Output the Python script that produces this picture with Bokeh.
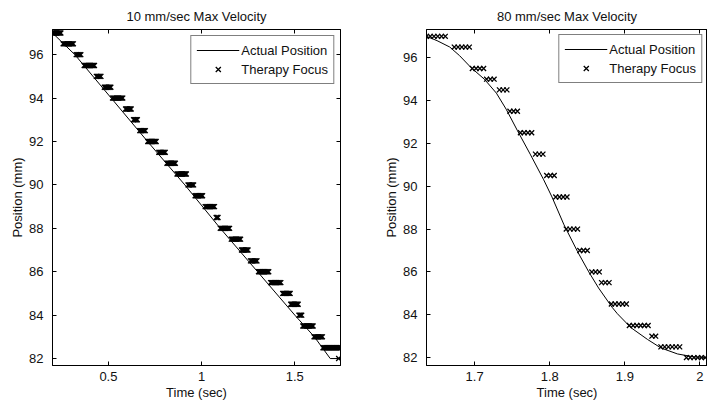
from bokeh.plotting import figure
from bokeh.layouts import row
from bokeh.models import LinearAxis, Range1d, Legend, LegendItem, FixedTicker
from bokeh.embed import file_html
from bokeh.resources import INLINE

# ---------------- data: left panel (10 mm/sec) ----------------
left_title = "10 mm/sec Max Velocity"
left_line_t = [0.2, 0.32, 0.515, 0.71, 0.91, 1.10, 1.30, 1.50, 1.605, 1.69, 1.745]
left_line_y = [97, 96, 94, 92, 90, 88, 86, 84, 83, 82, 82]
left_focus_level = [97, 96.5, 96, 95.5, 95, 94.5, 94, 93.5, 93, 92.5, 92, 91.5, 91, 90.5, 90,
                    89.5, 89, 88.5, 88, 87.5, 87, 86.5, 86, 85.5, 85, 84.5, 84, 83.5, 83, 82.5, 82]
left_focus_start = [0.200, 0.257, 0.327, 0.370, 0.435, 0.478, 0.522, 0.592, 0.635, 0.668, 0.711,
                    0.770, 0.814, 0.868, 0.927, 0.965, 1.019, 1.078, 1.100, 1.159, 1.214, 1.262,
                    1.305, 1.370, 1.435, 1.478, 1.522, 1.543, 1.603, 1.651, 1.735]
left_focus_end = [0.246, 0.311, 0.354, 0.424, 0.462, 0.511, 0.576, 0.624, 0.657, 0.700, 0.754,
                  0.803, 0.857, 0.916, 0.959, 1.003, 1.068, 1.089, 1.149, 1.208, 1.251, 1.295,
                  1.359, 1.424, 1.473, 1.516, 1.538, 1.597, 1.646, 1.745, 1.735]
left_x_ticks = [0.5, 1, 1.5]
left_x_labels = ["0.5", "1", "1.5"]

# ---------------- data: right panel (80 mm/sec) ----------------
right_title = "80 mm/sec Max Velocity"
right_line_t = [1.636, 1.650, 1.667, 1.680, 1.695, 1.713, 1.729, 1.742, 1.757, 1.774, 1.792,
                1.803, 1.819, 1.837, 1.852, 1.865, 1.883, 1.890, 1.908, 1.930, 1.948, 1.970,
                1.992, 2.010]
right_line_y = [97.0, 96.8, 96.5, 96.1, 95.55, 95.0, 94.35, 93.6, 92.6, 91.5, 90.3,
                89.5, 88.2, 86.95, 86.0, 85.25, 84.35, 84.05, 83.4, 82.85, 82.45, 82.17,
                82.03, 82.0]
right_focus_level = [97, 96.5, 95.5, 95, 94.5, 93.5, 92.5, 91.5, 90.5, 89.5, 88, 87, 86, 85.5,
                     84.5, 83.5, 83, 82.5, 82]
right_focus_start = [1.636, 1.673, 1.697, 1.716, 1.733, 1.747, 1.761, 1.781, 1.796, 1.808, 1.822,
                     1.840, 1.856, 1.869, 1.882, 1.906, 1.936, 1.948, 1.982]
right_focus_end = [1.663, 1.692, 1.712, 1.728, 1.741, 1.759, 1.774, 1.792, 1.805, 1.821, 1.836,
                   1.852, 1.866, 1.881, 1.902, 1.932, 1.942, 1.974, 2.010]
right_x_ticks = [1.7, 1.8, 1.9, 2]
right_x_labels = ["1.7", "1.8", "1.9", "2"]

y_ticks = [82, 84, 86, 88, 90, 92, 94, 96]
focus_dt = 0.005  # therapy-focus sample period

FONT = "Liberation Sans"
TXT = "#111111"


def expand(levels, starts, ends, dt):
    t, y = [], []
    for lv, s, e in zip(levels, starts, ends):
        n = int(round((e - s) / dt)) + 1
        for k in range(n):
            t.append(s + k * dt)
            y.append(lv)
    return t, y


def style_axis(ax, ticks, show_labels=True):
    ax.ticker = FixedTicker(ticks=ticks)
    ax.axis_line_color = "black"
    ax.major_tick_line_color = "black"
    ax.major_tick_in = 4
    ax.major_tick_out = 0
    ax.minor_tick_in = 0
    ax.minor_tick_out = 0
    ax.major_label_text_font = FONT
    if show_labels:
        ax.major_label_text_font_size = "13px"
        ax.major_label_text_color = TXT
    else:
        ax.major_label_text_font_size = "1px"
        ax.major_label_text_color = None
        ax.major_label_standoff = 0


def make_panel(title, xr, yr, xticks, xlabels, line_t, line_y, levels, starts, ends,
               width, mbl, mbr, right_axis, legend_margin):
    p = figure(width=width, height=408, x_range=Range1d(*xr), y_range=Range1d(*yr),
               output_backend="svg", toolbar_location=None, title=title,
               min_border_left=mbl, min_border_right=mbr, min_border_top=29, min_border_bottom=43)
    p.background_fill_color = "white"
    p.border_fill_color = "white"
    p.outline_line_color = "black"
    p.outline_line_alpha = 1.0
    p.xgrid.visible = False
    p.ygrid.visible = False
    p.title.text_font = FONT
    p.title.text_font_size = "13px"
    p.title.text_font_style = "normal"
    p.title.text_color = TXT
    p.title.align = "center"
    p.title.standoff = 11

    style_axis(p.xaxis[0], xticks)
    p.xaxis[0].major_label_overrides = dict(zip(xticks, xlabels))
    p.xaxis[0].major_label_standoff = 6
    p.xaxis[0].axis_label = "Time (sec)"
    p.xaxis[0].axis_label_standoff = 1
    style_axis(p.yaxis[0], y_ticks)
    p.yaxis[0].major_label_standoff = 9
    p.yaxis[0].axis_label = "Position (mm)"
    p.yaxis[0].axis_label_standoff = 1
    for ax in (p.xaxis[0], p.yaxis[0]):
        ax.axis_label_text_font = FONT
        ax.axis_label_text_font_size = "13px"
        ax.axis_label_text_font_style = "normal"
        ax.axis_label_text_color = TXT

    top = LinearAxis()
    style_axis(top, xticks, show_labels=False)
    p.add_layout(top, "above")
    if right_axis:
        rax = LinearAxis()
        style_axis(rax, y_ticks, show_labels=False)
        p.add_layout(rax, "right")

    ft, fy = expand(levels, starts, ends, focus_dt)
    line_r = p.line(line_t, line_y, line_color="black", line_width=1)
    sc_r = p.scatter(x=ft, y=fy, marker="x", size=7, line_color="black", line_width=1.3)

    legend = Legend(items=[LegendItem(label="Actual Position", renderers=[line_r]),
                           LegendItem(label="Therapy Focus", renderers=[sc_r])],
                    location="top_right")
    legend.margin = legend_margin
    legend.padding = 5
    legend.spacing = 1
    legend.glyph_width = 43
    legend.glyph_height = 18
    legend.label_height = 18
    legend.label_standoff = 2
    legend.label_text_font = FONT
    legend.label_text_font_size = "13px"
    legend.label_text_color = TXT
    legend.border_line_color = "black"
    legend.border_line_width = 1
    legend.background_fill_color = "white"
    legend.background_fill_alpha = 1.0
    p.add_layout(legend)
    return p


p1 = make_panel(left_title, (0.2, 1.745), (81.68, 97.16), left_x_ticks, left_x_labels,
                left_line_t, left_line_y, left_focus_level, left_focus_start, left_focus_end,
                width=360, mbl=52, mbr=20, right_axis=True, legend_margin=6)
p2 = make_panel(right_title, (1.636, 2.01), (81.63, 97.32), right_x_ticks, right_x_labels,
                right_line_t, right_line_y, right_focus_level, right_focus_start, right_focus_end,
                width=347, mbl=66, mbr=0, right_axis=False, legend_margin=5)

layout = row(p1, p2)
open("out.html", "w").write(file_html(layout, INLINE))
